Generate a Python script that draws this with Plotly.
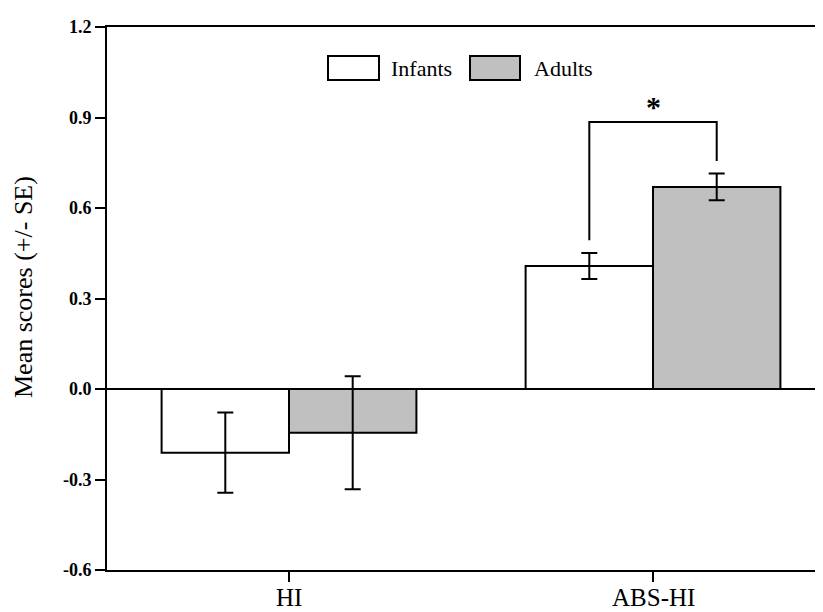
import plotly.graph_objects as go

categories = ["HI", "ABS-HI"]
infants = [-0.211, 0.408]
infants_se = [0.133, 0.043]
adults = [-0.145, 0.670]
adults_se = [0.187, 0.044]
y_ticks = [-0.6, -0.3, 0.0, 0.3, 0.6, 0.9, 1.2]
series_names = ["Infants", "Adults"]

FONT = "Liberation Serif"
OFF = 8  # page body margin of the html document
PAGE_W, PAGE_H = 823, 612
W, H = PAGE_W - OFF, PAGE_H - OFF
# plot area in page pixels
P_LEFT, P_RIGHT, P_TOP, P_BOTTOM = 107, 823, 27, 570
L, T = P_LEFT - OFF, P_TOP - OFF
R, B = PAGE_W - P_RIGHT, PAGE_H - P_BOTTOM
pw, ph = P_RIGHT - P_LEFT, P_BOTTOM - P_TOP

def px_x(p):
    return (p - P_LEFT) / pw

def px_y(p):
    return (P_BOTTOM - p) / ph

fig = go.Figure()
fig.add_trace(go.Bar(
    x=categories, y=infants, name=series_names[0],
    marker=dict(color="white", line=dict(color="black", width=2)),
    error_y=dict(type="data", array=infants_se, color="black", thickness=2, width=8),
    showlegend=False,
))
fig.add_trace(go.Bar(
    x=categories, y=adults, name=series_names[1],
    marker=dict(color="#c0c0c0", line=dict(color="black", width=2)),
    error_y=dict(type="data", array=adults_se, color="black", thickness=2, width=8),
    showlegend=False,
))

fig.update_layout(
    width=W, height=H,
    margin=dict(l=L, r=R, t=T, b=B, pad=0),
    barmode="group", bargap=0.3, bargroupgap=0,
    plot_bgcolor="white", paper_bgcolor="white",
    font=dict(family=FONT, color="black"),
)
fig.update_xaxes(
    range=[-0.5, 1.467], showline=True, linecolor="black", linewidth=2, mirror=True,
    ticks="outside", ticklen=10, tickwidth=2, tickcolor="black",
    showticklabels=False, automargin=False,
    showgrid=False, zeroline=False,
)
fig.update_yaxes(
    range=[-0.6, 1.2], tickvals=y_ticks, ticktext=[f"{v:.1f}" for v in y_ticks],
    showline=True, linecolor="black", linewidth=2, automargin=False,
    ticks="outside", ticklen=10, tickwidth=2, tickcolor="black",
    tickfont=dict(family=FONT, size=18, weight="bold"),
    showgrid=False, zeroline=True, zerolinecolor="black", zerolinewidth=2,
)

# category labels
for c in categories:
    fig.add_annotation(xref="x", yref="paper", x=c, y=px_y(613),
                       text=c, showarrow=False, xanchor="center", yanchor="bottom",
                       font=dict(family=FONT, size=25))

# y-axis title
fig.add_annotation(
    xref="paper", yref="paper", x=px_x(23), y=px_y(287),
    text="Mean scores (+/- SE)", textangle=-90, showarrow=False,
    font=dict(family=FONT, size=26), xanchor="center", yanchor="middle",
)

# custom legend
legend_items = [(series_names[0], "white", 328, 379, 389), (series_names[1], "#c0c0c0", 470, 520, 532)]
for name, col, x0, x1, tx in legend_items:
    fig.add_shape(type="rect", xref="paper", yref="paper",
                  x0=px_x(x0), x1=px_x(x1), y0=px_y(80), y1=px_y(56),
                  fillcolor=col, line=dict(color="black", width=2))
    fig.add_annotation(xref="paper", yref="paper", x=px_x(tx), y=px_y(68),
                       text=name, showarrow=False, xanchor="left", yanchor="middle",
                       font=dict(family=FONT, size=22))

# significance bracket on ABS-HI
off = 0.35 / 2
gap = 0.042
top = 0.885
xl, xr = 1 - off, 1 + off
yl = infants[1] + infants_se[1] + gap
yr = adults[1] + adults_se[1] + gap
fig.add_shape(type="path", xref="x", yref="y",
              path=f"M {xl} {yl} L {xl} {top} L {xr} {top} L {xr} {yr}",
              line=dict(color="black", width=2))
fig.add_annotation(xref="x", yref="y", x=1, y=0.935, text="<b>*</b>",
                   showarrow=False, font=dict(family=FONT, size=30),
                   xanchor="center", yanchor="middle")

fig.write_html("out.html")
